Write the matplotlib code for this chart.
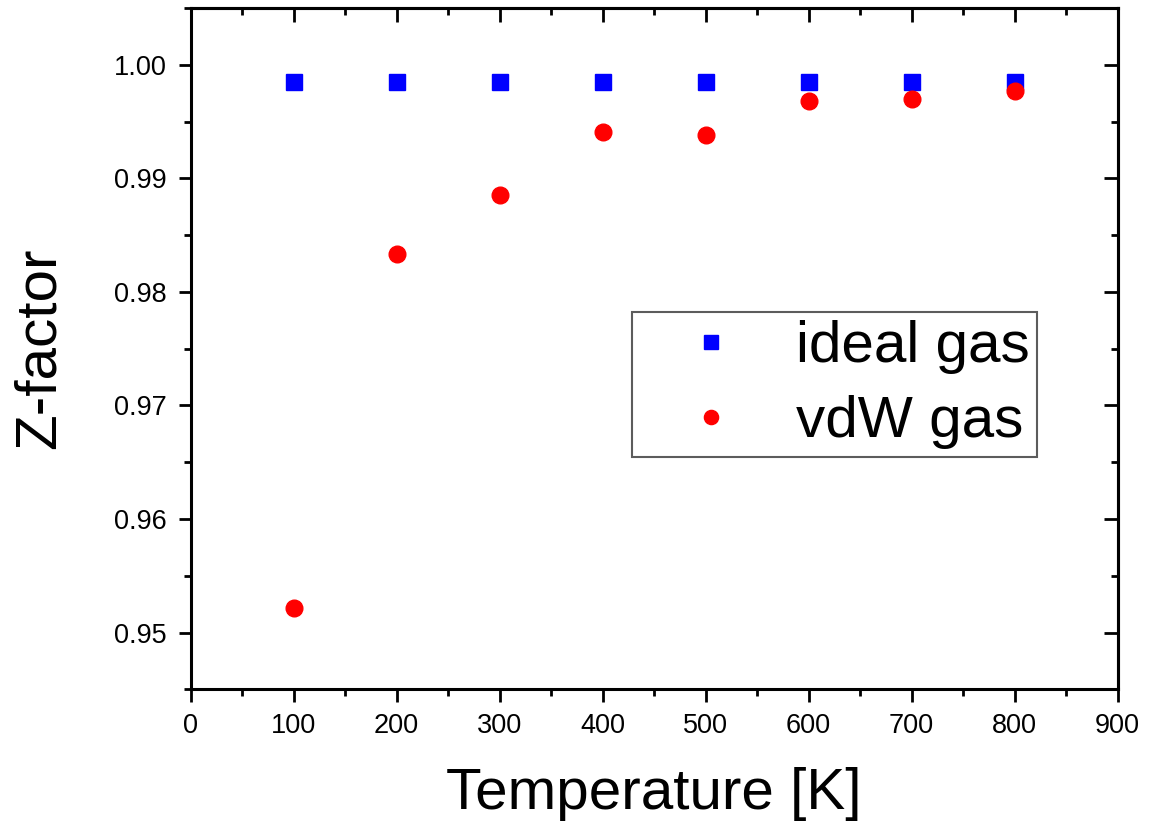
import matplotlib
matplotlib.use("Agg")
import matplotlib.pyplot as plt
from matplotlib.ticker import MultipleLocator

# data
temps = [100, 200, 300, 400, 500, 600, 700, 800]
z_ideal = [0.9985, 0.9985, 0.9985, 0.9985, 0.9985, 0.9985, 0.9985, 0.9985]
z_vdw = [0.9522, 0.9833, 0.9885, 0.9941, 0.9938, 0.9968, 0.9970, 0.9977]

plt.rcParams['font.family'] = ['Liberation Sans', 'DejaVu Sans']

fig = plt.figure(figsize=(11.5, 8.25), dpi=100)
ax = fig.add_axes([0.1658, 0.1645, 0.8061, 0.8258])

ax.plot(temps, z_ideal, ls='none', marker='s', ms=11.5, color='#0000ff', label='ideal gas')
ax.plot(temps, z_vdw, ls='none', marker='o', ms=12, color='#ff0000', label='vdW gas')

ax.set_xlim(0, 900)
ax.set_ylim(0.945, 1.005)
ax.xaxis.set_major_locator(MultipleLocator(100))
ax.xaxis.set_minor_locator(MultipleLocator(50))
ax.yaxis.set_major_locator(MultipleLocator(0.01))
ax.yaxis.set_minor_locator(MultipleLocator(0.005))
ax.yaxis.set_major_formatter(plt.FormatStrFormatter('%.2f'))

for s in ax.spines.values():
    s.set_linewidth(2.2)

ax.tick_params(which='both', direction='out', width=2, labelsize=19.5, pad=8,
               top=False, right=False)
ax.tick_params(which='major', length=9)
ax.tick_params(which='minor', length=5)

# inward ticks on top and right, no labels
ax2 = ax.secondary_xaxis('top')
ax2.xaxis.set_major_locator(MultipleLocator(100))
ax2.xaxis.set_minor_locator(MultipleLocator(50))
ax2.tick_params(which='both', direction='in', width=2, labeltop=False)
ax2.tick_params(which='major', length=10)
ax2.tick_params(which='minor', length=5)
ax2.spines['top'].set_linewidth(2.2)
ay2 = ax.secondary_yaxis('right')
ay2.yaxis.set_major_locator(MultipleLocator(0.01))
ay2.yaxis.set_minor_locator(MultipleLocator(0.005))
ay2.tick_params(which='both', direction='in', width=2, labelright=False)
ay2.tick_params(which='major', length=10)
ay2.tick_params(which='minor', length=5)
ay2.spines['right'].set_linewidth(2.2)

ax.set_xlabel('Temperature [K]', fontsize=42, labelpad=20)
ax.set_ylabel('Z-factor', fontsize=42, labelpad=34)

leg = ax.legend(loc='upper left', bbox_to_anchor=(0.4757, 0.5538), fontsize=42,
                frameon=True, fancybox=False, markerscale=0.85,
                borderpad=0.14, handlelength=2.45, handletextpad=0.22,
                labelspacing=0.36, borderaxespad=0)
leg.get_frame().set_edgecolor('#333333')
leg.get_frame().set_linewidth(1.5)

fig.savefig('out.png', dpi=100)
